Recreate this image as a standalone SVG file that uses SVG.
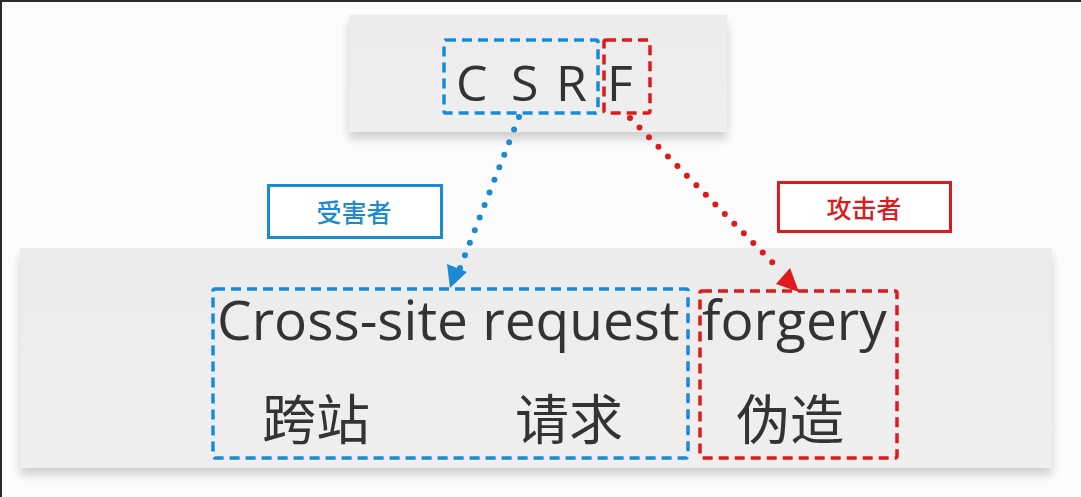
<svg xmlns="http://www.w3.org/2000/svg" width="1081" height="497" viewBox="0 0 1081 497">
<defs>
<style>
.txt{font-family:"Open Sans","Noto Sans","Noto Sans CJK SC",sans-serif;fill:#333333}
.cjk{font-family:"Noto Sans CJK SC",sans-serif;fill:#333333}
.blue{stroke:#1b8ad3;fill:none}
.red{stroke:#e01a1a;fill:none}
.dash{stroke-width:3.5;stroke-dasharray:10 6}
.dot{stroke-width:6;stroke-dasharray:0 13.5;stroke-linecap:round}
.lbl{font-family:"Noto Sans CJK SC",sans-serif;font-size:25px;font-weight:500;text-anchor:middle}
</style>
<filter id="sh" x="-5%" y="-10%" width="110%" height="130%">
<feGaussianBlur in="SourceAlpha" stdDeviation="5"/>
<feOffset dx="0" dy="7" result="b"/>
<feComponentTransfer><feFuncA type="linear" slope="0.18"/></feComponentTransfer>
<feMerge><feMergeNode/><feMergeNode in="SourceGraphic"/></feMerge>
</filter>
<linearGradient id="pg" x1="0" y1="0" x2="0" y2="1">
<stop offset="0" stop-color="#ececec"/>
<stop offset="1" stop-color="#efefef"/>
</linearGradient>
</defs>
<rect x="0" y="0" width="1081" height="497" fill="#fcfcfc"/>
<rect x="0" y="0" width="1081" height="2" fill="#2b2b2b"/>
<rect x="0" y="0" width="2" height="497" fill="#2b2b2b"/>

<g id="top-panel">
<rect x="349" y="15" width="378" height="117" fill="url(#pg)" filter="url(#sh)"/>
</g>
<g id="bottom-panel">
<rect x="20" y="248" width="1032" height="220" fill="url(#pg)" filter="url(#sh)"/>
</g>

<g id="csr">
<rect class="blue dash" x="444" y="40" width="154" height="73" rx="2"/>
<text class="txt" x="456" y="101" font-size="50">C</text>
<text class="txt" x="511" y="101" font-size="50">S</text>
<text class="txt" x="556" y="101" font-size="50">R</text>
</g>
<g id="f">
<rect class="red dash" x="604" y="40" width="46" height="73" rx="2"/>
<text class="txt" x="607" y="101" font-size="50">F</text>
</g>

<g id="victim">
<rect x="268.5" y="185.5" width="173" height="52" fill="#ffffff" stroke="#1b8ad3" stroke-width="3"/>
<text class="lbl" x="354" y="222" fill="#1b8ad3">受害者</text>
</g>
<g id="attacker">
<rect x="778.5" y="182.5" width="172" height="49" fill="#ffffff" stroke="#e01a1a" stroke-width="3"/>
<text class="lbl" x="864" y="218" fill="#e01a1a">攻击者</text>
</g>

<g id="cross-site-request">
<rect class="blue dash" x="213" y="289" width="475" height="169" rx="2"/>
<text class="txt" x="217" y="340" font-size="55">Cross-site request</text>
<text class="cjk" x="262" y="440" font-size="54">跨站</text>
<text class="cjk" x="515" y="440" font-size="54">请求</text>
</g>
<g id="forgery">
<rect class="red dash" x="700" y="291" width="197" height="167" rx="2"/>
<text class="txt" x="702" y="340" font-size="55">forgery</text>
<text class="cjk" x="736" y="440" font-size="54">伪造</text>
</g>

<g id="connectors">
<line class="blue dot" x1="519" y1="117" x2="460" y2="268"/>
<path d="M450,288 L447,264 L467,272 z" fill="#1b8ad3"/>
<line class="red dot" x1="630" y1="118" x2="780" y2="270"/>
<path d="M799,292 L776,284 L790,268 z" fill="#e01a1a"/>
</g>
</svg>
